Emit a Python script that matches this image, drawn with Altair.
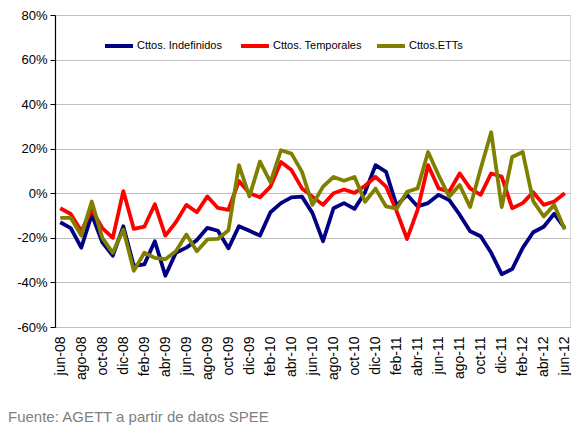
import altair as alt
import pandas as pd

month_abbr = ["ene", "feb", "mar", "abr", "may", "jun", "jul", "ago", "sep", "oct", "nov", "dic"]
months = []
for k in range(49):
    m = (5 + k) % 12
    yr = 8 + (5 + k) // 12
    months.append(f"{month_abbr[m]}-{yr:02d}")
tick_labels = months[::2]

series_names = ["Cttos. Indefinidos", "Cttos. Temporales", "Cttos.ETTs"]
series_colors = ["#000080", "#ff0000", "#808000"]

indefinidos = [-13, -15.6, -24.4, -9.6, -22, -28, -14.8, -32.6, -31.9, -21.5,
               -37, -26.7, -24.4, -21, -15.5, -16.8, -24.7, -14.8, -16.8, -19,
               -8.5, -4.4, -1.8, -1.5, -8.9, -21.5, -6.7, -4.4, -7, 0.5,
               12.6, 9.6, -5.5, -0.7, -5.9, -4.4, -0.7, -3, -9.6, -17,
               -19.3, -26.7, -36.3, -34, -24.5, -17.5, -15, -9.2, -15.6]
temporales = [-6.7, -9.3, -17, -7.4, -15.6, -20, 1, -16, -15, -4.9,
              -19, -13, -5.2, -8.5, -1.4, -6.6, -7.4, 5.5, 0, -1.8,
              3, 14, 10.4, 2.2, -1.5, -5.2, 0, 1.7, 0.2, 3.4,
              7.4, 3, -8, -20.5, -7.4, 12.6, 2.2, 0.7, 8.9, 2.2,
              -0.7, 8.9, 7.5, -6.7, -4.4, 0.5, -5.2, -3.7, 0]
etts = [-11, -11, -19, -3.7, -20, -26.7, -16.3, -34.8, -26.7, -29,
        -29.6, -26, -18.5, -26, -20.7, -20.5, -16.6, 12.6, -1.4, 14.2,
        5, 19.3, 17.8, 9.6, -5.2, 3, 7.3, 5.6, 7.3, -3.8,
        2.1, -5.9, -6.9, 0.7, 2.2, 18.5, 8.1, -1.5, 3.7, -6.2,
        11, 27.4, -6.2, 16.3, 18.5, -3.5, -10.4, -5.2, -16.3]

y_ticks = [-60, -40, -20, 0, 20, 40, 60, 80]
source_text = ["Fuente: AGETT a partir de datos SPEE"]

rows = []
for name, vals in zip(series_names, [indefinidos, temporales, etts]):
    for mes, v in zip(months, vals):
        rows.append({"mes": mes, "serie": name, "valor": v})
df = pd.DataFrame(rows)

FONT = "Liberation Sans"

lines = alt.Chart(df).mark_line(strokeWidth=3.8, strokeJoin="round").encode(
    x=alt.X("mes:O", sort=months,
            scale=alt.Scale(type="point", padding=0.5),
            axis=alt.Axis(values=tick_labels, labelAngle=-90, title=None,
                          domain=False, ticks=False, grid=False,
                          labelPadding=9, labelFontSize=14, labelColor="#000000",
                          labelFont=FONT)),
    y=alt.Y("valor:Q",
            scale=alt.Scale(domain=[-60, 80], nice=False, zero=False),
            axis=alt.Axis(values=y_ticks, labelExpr="datum.value + '%'", title=None,
                          grid=True, gridColor="#c0c0c0", gridWidth=1,
                          domainColor="#000000", domainWidth=1.2,
                          tickColor="#000000", tickSize=5, labelPadding=3,
                          labelFontSize=13, labelColor="#000000", labelFont=FONT)),
    color=alt.Color("serie:N",
                    scale=alt.Scale(domain=series_names, range=series_colors),
                    legend=alt.Legend(orient="none", legendX=48, legendY=15,
                                      direction="horizontal", title=None,
                                      symbolType="stroke", symbolSize=784,
                                      symbolStrokeWidth=4, labelFontSize=11,
                                      labelFont=FONT, labelOffset=2,
                                      gridAlign="all", columnPadding=7,
                                      labelColor="#000000", padding=0)),
    order=alt.Order("serie:N"),
)

source = alt.Chart(pd.DataFrame({"t": source_text})).mark_text(
    align="left", baseline="alphabetic", fontSize=15, font=FONT, color="#808080"
).encode(text="t:N", x=alt.value(-47), y=alt.value(407))

chart = alt.layer(lines, source).properties(
    width=515, height=312,
    autosize=alt.AutoSizeParams(type="none"),
    padding={"left": 47, "top": 7, "right": 1, "bottom": 99},
).configure_view(stroke=None).configure(font=FONT, background="#ffffff")

chart.save("out.html", embed_options={"renderer": "svg", "actions": False})
